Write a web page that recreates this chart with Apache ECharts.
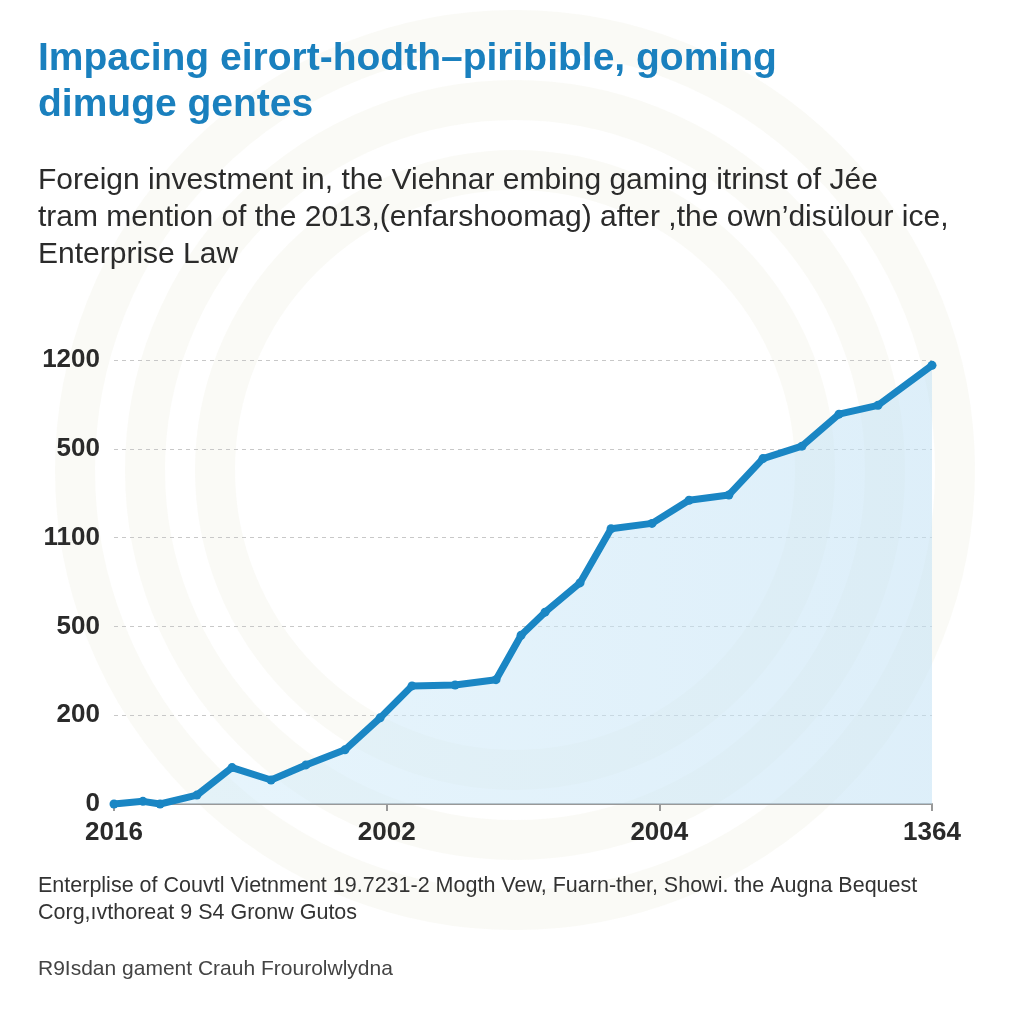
<!DOCTYPE html>
<html>
<head>
<meta charset="utf-8">
<script src="https://cdn.jsdelivr.net/npm/echarts@6/dist/echarts.min.js"></script>
<style>html,body{margin:0;padding:0;background:#fff;}#c{width:1024px;height:1024px;}</style>
</head>
<body>
<div id="c"></div>
<script>
// ---- data ----
var xTickLabels = ['2016', '2002', '2004', '1364'];
var yTickLabels = ['0', '200', '500', '1100', '500', '1200'];
var xPos = [0.00, 0.106, 0.169, 0.304, 0.433, 0.576, 0.704, 0.847, 0.976, 1.093, 1.251, 1.401,
            1.493, 1.581, 1.709, 1.823, 1.973, 2.109, 2.255, 2.380, 2.523, 2.659, 2.802, 3.0];
var yVal = [0.00, 0.03, 0.00, 0.10, 0.41, 0.27, 0.44, 0.61, 0.97, 1.33, 1.34, 1.40,
            1.90, 2.16, 2.49, 3.10, 3.16, 3.42, 3.48, 3.89, 4.03, 4.39, 4.49, 4.94];
var titleLines = ['Impacing eirort-hodth\u2013piribible, goming', 'dimuge gentes'];
var subLines = ['Foreign investment in, the Viehnar embing gaming itrinst of J\u00e9e',
  "tram mention of the 2013,(enfarshoomag) after ,the own\u2019dis\u00fclour ice,",
  'Enterprise Law'];
var footLines = ['Enterplise of Couvtl Vietnment 19.7231-2 Mogth Vew, Fuarn-ther, Showi. the Augna Bequest',
  'Corg,\u0131vthoreat 9 S4 Gronw Gutos'];
var sourceLine = 'R9Isdan gament Crauh Frourolwlydna';

var seriesData = xPos.map(function (x, i) { return [x, yVal[i]]; });

var chart = echarts.init(document.getElementById('c'));
var FONT = '"Liberation Sans", Arial, sans-serif';
var graphics = [];
// decorative faint rings
[440, 370, 300].forEach(function (r) {
  graphics.push({ type: 'circle', z: -10, silent: true,
    shape: { cx: 515, cy: 470, r: r },
    style: { fill: 'rgba(0,0,0,0)', stroke: 'rgba(240,240,228,0.35)', lineWidth: 40 } });
});
graphics.push({ type: 'circle', z: -9, silent: true, shape: { cx: 515, cy: 470, r: 230 },
  style: { fill: '#ffffff' } });
titleLines.forEach(function (t, i) {
  graphics.push({ type: 'text', left: 38, top: 40 + i * 46,
    style: { text: t, font: 'bold 39px ' + FONT, fill: '#1a80be' } });
});
subLines.forEach(function (t, i) {
  graphics.push({ type: 'text', left: 38, top: 166 + i * 37,
    style: { text: t, font: '30px ' + FONT, fill: '#2b2b2b' } });
});
footLines.forEach(function (t, i) {
  graphics.push({ type: 'text', left: 38, top: 875 + i * 27,
    style: { text: t, font: '21.5px ' + FONT, fill: '#333333' } });
});
graphics.push({ type: 'text', left: 38, top: 959,
  style: { text: sourceLine, font: '21px ' + FONT, fill: '#444444' } });

chart.setOption({
  backgroundColor: '#ffffff',
  animation: false,
  graphic: graphics,
  grid: { left: 114, right: 92, top: 360, bottom: 220, containLabel: false },
  xAxis: {
    type: 'value', min: 0, max: 3, interval: 1,
    axisLine: { show: true, lineStyle: { color: '#999999', width: 2 } },
    axisTick: { show: true, length: 7, lineStyle: { color: '#999999', width: 2 } },
    splitLine: { show: false },
    axisLabel: { margin: 16, fontSize: 26, fontWeight: 'bold', color: '#2a2a2a', fontFamily: FONT,
      formatter: function (v) { return xTickLabels[Math.round(v)]; } }
  },
  yAxis: {
    type: 'value', min: 0, max: 5, interval: 1,
    axisLine: { show: false }, axisTick: { show: false },
    splitLine: { show: true, lineStyle: { color: '#c8c8c8', type: [4, 4], width: 1 } },
    axisLabel: { margin: 14, fontSize: 26, fontWeight: 'bold', color: '#2a2a2a', fontFamily: FONT,
      formatter: function (v) { return yTickLabels[Math.round(v)]; } }
  },
  series: [{
    type: 'line', data: seriesData,
    symbol: 'circle', symbolSize: 9, showSymbol: true,
    lineStyle: { color: '#1a86c4', width: 7 },
    itemStyle: { color: '#1a86c4' },
    areaStyle: { color: new echarts.graphic.LinearGradient(0, 0, 1, 0, [
      { offset: 0, color: 'rgba(210,236,250,0.75)' },
      { offset: 1, color: 'rgba(195,226,245,0.8)' }]) }
  }]
});
</script>
</body>
</html>
